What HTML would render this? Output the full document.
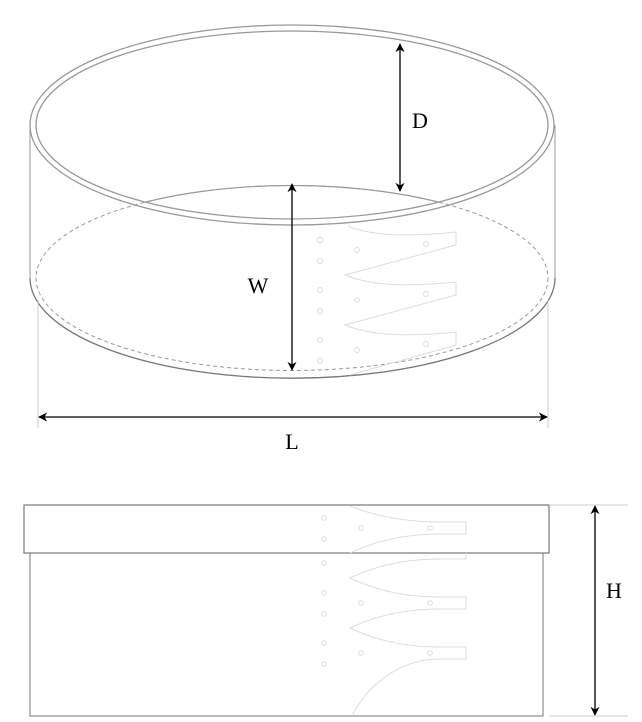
<!DOCTYPE html>
<html><head><style>body{margin:0;background:#fff}svg{display:block}text{font-family:"Liberation Serif",serif}</style></head><body>
<svg width="642" height="722" viewBox="0 0 642 722" xmlns="http://www.w3.org/2000/svg">
<defs>
<marker id="a" viewBox="0 0 10 10" refX="9" refY="5" markerWidth="7" markerHeight="7" orient="auto-start-reverse"><path d="M0,0 L10,5 L0,10 L3,5 z" fill="#000"/></marker>
<clipPath id="ci"><ellipse cx="292" cy="125" rx="256" ry="94"/></clipPath>
</defs>
<line x1="30" y1="125" x2="30" y2="278" stroke="#999" stroke-width="1"/>
<line x1="555" y1="125" x2="555" y2="278" stroke="#999" stroke-width="1"/>
<path d="M30,278 A262,100 0 0 0 555,278" fill="none" stroke="#777" stroke-width="1.3"/>
<ellipse cx="292" cy="278" rx="256" ry="92.5" fill="none" stroke="#999" stroke-dasharray="4,3"/>
<ellipse cx="292" cy="278" rx="256" ry="92.5" fill="none" stroke="#999" stroke-width="1.2" clip-path="url(#ci)"/>
<ellipse cx="292" cy="125" rx="262" ry="100" fill="none" stroke="#999" stroke-width="1.3"/>
<ellipse cx="292" cy="125" rx="256" ry="94" fill="none" stroke="#999" stroke-width="1.3"/>
<g fill="none" stroke="#ddd" stroke-width="1">
<path d="M348,226 Q380,240 456,232 L456,245 L345,275 Q380,290 456,282 L456,295 L345,325 Q380,340 456,332 L456,345 L350,375"/>
<circle cx="320" cy="240" r="2.5"/><circle cx="320" cy="261" r="2.5"/><circle cx="320" cy="290" r="2.5"/><circle cx="320" cy="311" r="2.5"/><circle cx="320" cy="340" r="2.5"/><circle cx="320" cy="361" r="2.5"/>
<circle cx="357" cy="250" r="2.5"/><circle cx="357" cy="300" r="2.5"/><circle cx="357" cy="350" r="2.5"/>
<circle cx="426" cy="244" r="2.5"/><circle cx="426" cy="294" r="2.5"/><circle cx="426" cy="344" r="2.5"/>
</g>
<line x1="38" y1="300" x2="38" y2="428" stroke="#ccc"/>
<line x1="548" y1="300" x2="548" y2="428" stroke="#ccc"/>
<line x1="400" y1="44" x2="400" y2="191" stroke="#000" stroke-width="1.3" marker-start="url(#a)" marker-end="url(#a)"/>
<line x1="292" y1="184" x2="292" y2="370" stroke="#000" stroke-width="1.3" marker-start="url(#a)" marker-end="url(#a)"/>
<line x1="39" y1="417" x2="547" y2="417" stroke="#000" stroke-width="1.3" marker-start="url(#a)" marker-end="url(#a)"/>
<text x="420" y="128" font-size="22" text-anchor="middle">D</text>
<text x="258" y="293" font-size="22" text-anchor="middle">W</text>
<text x="292" y="449" font-size="22" text-anchor="middle">L</text>
<rect x="30" y="553" width="513" height="163" fill="none" stroke="#777" stroke-width="1"/>
<rect x="24" y="505" width="525" height="48" fill="#fff" stroke="#777" stroke-width="1.2"/>
<g fill="none" stroke="#ddd" stroke-width="1">
<path d="M350,506 Q390,522 440,522 L466,522 L466,534 L440,534 Q390,534 350,553"/>
<path d="M466,553 L466,559 L440,559 Q390,559 350,578 Q390,597 440,597 L466,597 L466,609 L440,609 Q390,609 350,628 Q390,647 440,647 L466,647 L466,659 L440,659 C395,659 365,690 352,716"/>
<circle cx="324" cy="518" r="2.3"/><circle cx="324" cy="539" r="2.3"/><circle cx="324" cy="563" r="2.3"/><circle cx="324" cy="593" r="2.3"/><circle cx="324" cy="614" r="2.3"/><circle cx="324" cy="643" r="2.3"/><circle cx="324" cy="664" r="2.3"/>
<circle cx="361" cy="528" r="2.3"/><circle cx="361" cy="603" r="2.3"/><circle cx="361" cy="653" r="2.3"/>
<circle cx="430" cy="528" r="2.3"/><circle cx="430" cy="603" r="2.3"/><circle cx="430" cy="653" r="2.3"/>
</g>
<line x1="549" y1="505" x2="628" y2="505" stroke="#ccc"/>
<line x1="549" y1="716" x2="628" y2="716" stroke="#ccc"/>
<line x1="595" y1="506" x2="595" y2="715" stroke="#000" stroke-width="1.3" marker-start="url(#a)" marker-end="url(#a)"/>
<text x="614" y="598" font-size="22" text-anchor="middle">H</text>
</svg>
</body></html>
